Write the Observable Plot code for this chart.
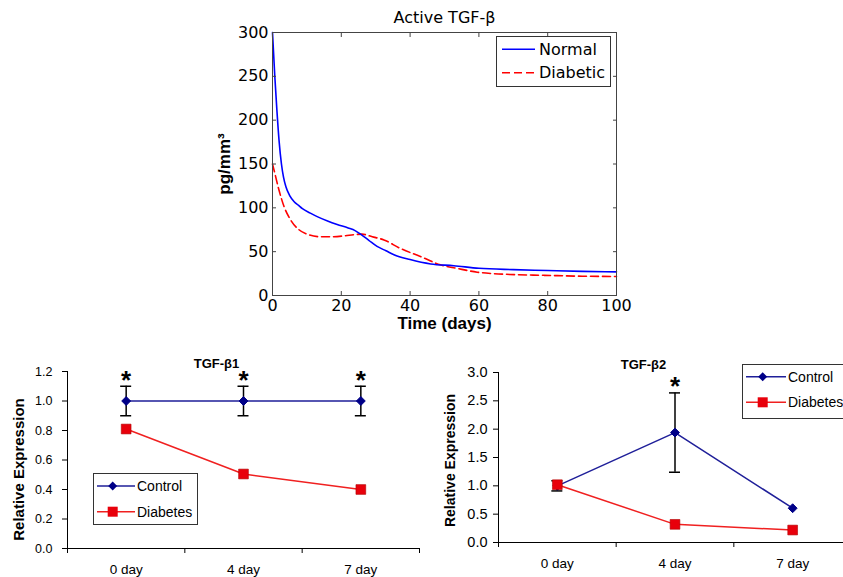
<!DOCTYPE html>
<html><head><meta charset="utf-8">
<script src="https://cdn.jsdelivr.net/npm/d3@7"></script>
<script src="https://cdn.jsdelivr.net/npm/@observablehq/plot@0.6"></script>
<style>
html,body{margin:0;padding:0;background:#fff;}
#root{position:relative;width:843px;height:577px;overflow:hidden;background:#fff;}
#root svg{position:absolute;overflow:visible;}
</style></head><body><div id="root"></div>
<script>
// ---------- Data: top chart (Active TGF-β) ----------
const topTitle = "Active TGF-β";
const topXLabel = "Time (days)";
const topYLabel = "pg/mm³";
const topSeries = ["Normal", "Diabetic"];
const topXTicks = [0, 20, 40, 60, 80, 100];
const topYTicks = [0, 50, 100, 150, 200, 250, 300];
const normalTime = [0, 0.67, 1.3, 1.9, 2.6, 3.2, 3.9, 5, 6.3, 7.5, 8.7, 11, 13, 16, 18.8, 22, 24, 25.6, 28, 30.4, 33, 35.3, 40, 46, 52.7, 60, 70, 80, 90, 100];
const normalValue = [300, 250, 210, 177, 150, 135, 124, 114, 107, 103, 99, 94, 90, 85, 81, 77, 74, 70, 63, 56, 51, 46.5, 41, 36, 34, 31, 29.5, 28.5, 27.5, 27];
const diabeticTime = [0, 0.7, 1.9, 3.4, 5.3, 7.7, 10, 14, 17, 20.8, 24, 26, 29, 32.4, 37, 43, 48.8, 53.6, 59.5, 64, 69, 79, 90, 100];
const diabeticValue = [150, 139, 120, 101, 86, 75, 70, 67, 67, 68, 69.5, 70, 67, 63.4, 54, 44.5, 35, 31, 26.6, 25, 24, 23, 22, 21.7];

// ---------- Data: bottom charts ----------
const categories = ["0 day", "4 day", "7 day"];
const bottomSeries = ["Control", "Diabetes"];
const yLabelBottom = "Relative Expression";

const b1Title = "TGF-β1";
const b1Ticks = [0, 0.2, 0.4, 0.6, 0.8, 1.0, 1.2];
const b1Control = [1.0, 1.0, 1.0];
const b1ControlErr = [0.1, 0.1, 0.1];
const b1Diabetes = [0.81, 0.505, 0.40];
const b1Signif = [true, true, true];

const b2Title = "TGF-β2";
const b2Ticks = [0, 0.5, 1.0, 1.5, 2.0, 2.5, 3.0];
const b2Control = [1.0, 1.94, 0.605];
const b2ControlErr = [0.09, 0.7, 0];
const b2Diabetes = [1.02, 0.32, 0.22];
const b2Signif = [false, true, false];

// ---------- Styles ----------
const navyLine = "#1f1f99", navyMark = "#000088";
const redLine = "#f02020", redMark = "#e8000b";
const root = document.getElementById("root");
function place(el, left, top) { el.style.left = left + "px"; el.style.top = top + "px"; root.appendChild(el); }

// ---------- Top chart ----------
const normal = normalTime.map((t, i) => ({t, v: normalValue[i]}));
const diabetic = diabeticTime.map((t, i) => ({t, v: diabeticValue[i]}));
const topChart = Plot.plot({
  width: 440, height: 340,
  marginLeft: 72, marginRight: 24, marginTop: 32, marginBottom: 45,
  style: {fontFamily: "'DejaVu Sans', sans-serif", fontSize: "16px", color: "#000", background: "transparent"},
  x: {domain: [0, 100]},
  y: {domain: [0, 300]},
  marks: [
    Plot.line(diabetic, {x: "t", y: "v", stroke: "#ff0000", strokeWidth: 1.6, strokeDasharray: "8,4", curve: "monotone-x"}),
    Plot.line(normal, {x: "t", y: "v", stroke: "#0000ff", strokeWidth: 1.6, curve: "monotone-x"}),
    Plot.frame({stroke: "#444"}),
    Plot.axisX({ticks: topXTicks, tickSize: -4, tickPadding: 8, label: null, stroke: "#444"}),
    Plot.axisX({anchor: "top", ticks: topXTicks, tickSize: -4, tickFormat: () => "", label: null, stroke: "#444"}),
    Plot.axisY({ticks: topYTicks, tickSize: -4, tickPadding: 8, label: null, stroke: "#444"}),
    Plot.axisY({anchor: "right", ticks: topYTicks, tickSize: -4, tickFormat: () => "", label: null, stroke: "#444"}),
    Plot.text([topXLabel], {frameAnchor: "bottom", dy: 33, fontFamily: "'Liberation Sans', Arial, sans-serif", fontWeight: "bold", fontSize: 17}),
    Plot.text([topYLabel], {frameAnchor: "left", textAnchor: "middle", dx: -48, rotate: -90, fontFamily: "'Liberation Sans', Arial, sans-serif", fontWeight: "bold", fontSize: 17}),
    Plot.text([topTitle], {frameAnchor: "top", dy: -21, fontSize: 16})
  ]
});
place(topChart, 200, 0);

// ---------- Bottom charts ----------
function bottomChart(o) {
  const rows = categories.map((c, i) => ({x: i + 0.5, c: o.control[i], e: o.err[i], d: o.diab[i], s: o.signif[i]}));
  const font = "'Liberation Sans', Arial, sans-serif";
  return Plot.plot({
    width: o.width, height: 232,
    marginLeft: o.xRange[0], marginRight: o.width - Math.min(o.width, o.xRange[1]),
    marginTop: o.marginTop, marginBottom: o.marginBottom,
    style: {fontFamily: font, fontSize: "12.5px", color: "#000", background: "transparent"},
    x: {domain: [0, 3], range: o.xRange},
    y: {domain: [0, o.ticks[o.ticks.length - 1]]},
    marks: [
      Plot.ruleY([0], {x1: 0, x2: 3, stroke: "#000"}),
      Plot.ruleX([0], {y1: 0, y2: o.ticks[o.ticks.length - 1], stroke: "#000"}),
      Plot.axisY({ticks: o.ticks, tickSize: 5, tickPadding: o.tickPadding, tickFormat: d3.format(".1f"), label: null, fontSize: o.tickFont}),
      Plot.axisX({ticks: [0, 1, 2, 3], tickSize: 5, tickFormat: () => "", label: null}),
      Plot.axisX({ticks: [0.5, 1.5, 2.5], tickSize: 0, tickPadding: 16, tickFormat: d => categories[Math.floor(d)], label: null, fontSize: 13.5}),
      Plot.line(rows, {x: "x", y: "d", stroke: redLine, strokeWidth: 1.5}),
      Plot.line(rows, {x: "x", y: "c", stroke: navyLine, strokeWidth: 1.5}),
      Plot.ruleX(rows.filter(r => r.e > 0), {x: "x", y1: r => r.c - r.e, y2: r => r.c + r.e, stroke: "#000", strokeWidth: 1.5}),
      Plot.ruleY(rows.filter(r => r.e > 0), {x1: "x", x2: "x", y: r => r.c + r.e, insetLeft: -5.5, insetRight: -5.5, stroke: "#000", strokeWidth: 1.5}),
      Plot.ruleY(rows.filter(r => r.e > 0), {x1: "x", x2: "x", y: r => r.c - r.e, insetLeft: -5.5, insetRight: -5.5, stroke: "#000", strokeWidth: 1.5}),
      Plot.dot(rows, {x: "x", y: "c", symbol: "diamond2", r: 4, fill: navyMark, stroke: navyMark, strokeWidth: 1}),
      Plot.dot(rows, {x: "x", y: "d", symbol: "square", r: 5.5, fill: redMark, stroke: "#b00000", strokeWidth: 0.6}),
      Plot.text(rows.filter(r => r.s), {x: "x", y: r => r.c + r.e, text: () => "*", dy: -6, fontSize: 26, fontWeight: "bold"}),
      Plot.text([o.title], {frameAnchor: "top", dx: o.titleDx, dy: -13, fontWeight: "bold", fontSize: 13}),
      Plot.text([yLabelBottom], {frameAnchor: "left", textAnchor: "middle", dx: -48, dy: o.yLabelDy, rotate: -90, fontWeight: "bold", fontSize: o.yLabelFont})
    ]
  });
}
const b1 = bottomChart({width: 420, xRange: [67, 419], marginTop: 26, marginBottom: 29, ticks: b1Ticks,
  control: b1Control, err: b1ControlErr, diab: b1Diabetes, signif: b1Signif, title: b1Title,
  titleDx: -27, tickPadding: 10, tickFont: 12.5, yLabelDy: 9.5, yLabelFont: 15});
place(b1, 0, 345);
const b2 = bottomChart({width: 423, xRange: [78, 431], marginTop: 27, marginBottom: 35, ticks: b2Ticks,
  control: b2Control, err: b2ControlErr, diab: b2Diabetes, signif: b2Signif, title: b2Title,
  titleDx: -27.5, tickPadding: 6, tickFont: 14.5, yLabelDy: 3, yLabelFont: 14});
place(b2, 420, 345);

// ---------- Legends ----------
function topLegend() {
  const svg = d3.create("svg").attr("width", 116).attr("height", 52);
  svg.append("rect").attr("x", 0.5).attr("y", 0.5).attr("width", 114).attr("height", 50).attr("fill", "#fff").attr("stroke", "#333");
  const ys = [13.3, 36.7], cols = ["#0000ff", "#ff0000"], dash = [null, "8,4"];
  topSeries.forEach((s, i) => {
    svg.append("line").attr("x1", 6).attr("x2", 39).attr("y1", ys[i]).attr("y2", ys[i]).attr("stroke", cols[i]).attr("stroke-width", 1.6).attr("stroke-dasharray", dash[i]);
    svg.append("text").attr("x", 43).attr("y", ys[i]).attr("dy", "0.36em").attr("font-family", "'DejaVu Sans', sans-serif").attr("font-size", 16).text(s);
  });
  return svg.node();
}
place(topLegend(), 496, 36);

function bottomLegend(w, h, ys, lineX, markX, textX) {
  const svg = d3.create("svg").attr("width", w).attr("height", h);
  svg.append("rect").attr("x", 0.5).attr("y", 0.5).attr("width", w - 1).attr("height", h - 1).attr("fill", "#fff").attr("stroke", "#333");
  bottomSeries.forEach((s, i) => {
    const y = ys[i];
    svg.append("line").attr("x1", lineX[0]).attr("x2", lineX[1]).attr("y1", y).attr("y2", y).attr("stroke", i ? redLine : navyLine).attr("stroke-width", 1.5);
    if (i === 0) svg.append("path").attr("d", `M${markX},${y - 4.5}L${markX + 4.5},${y}L${markX},${y + 4.5}L${markX - 4.5},${y}Z`).attr("fill", navyMark);
    else svg.append("rect").attr("x", markX - 5).attr("y", y - 5).attr("width", 10).attr("height", 10).attr("fill", redMark);
    svg.append("text").attr("x", textX).attr("y", y).attr("dy", "0.36em").attr("font-family", "'Liberation Sans', Arial, sans-serif").attr("font-size", 14).text(s);
  });
  return svg.node();
}
place(bottomLegend(105, 52, [13, 38.7], [4, 42], 19.7, 44), 93, 473);
place(bottomLegend(112, 55, [12.7, 38.3], [4, 44], 20.7, 46), 742, 364);
</script></body></html>
